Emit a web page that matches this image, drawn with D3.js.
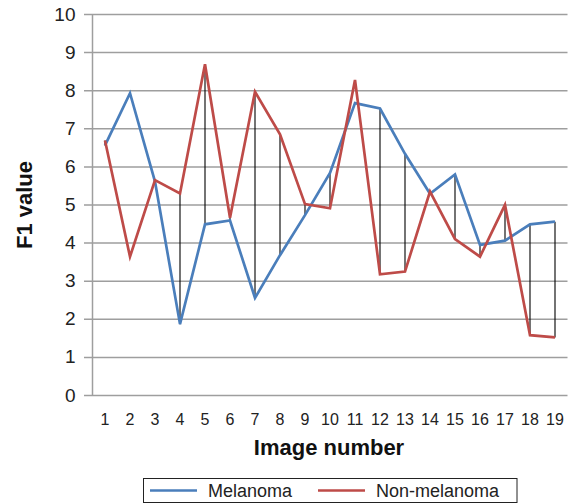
<!DOCTYPE html>
<html><head><meta charset="utf-8">
<script src="https://cdn.jsdelivr.net/npm/d3@7"></script>
<style>body{margin:0;background:#fff}svg{display:block;font-family:"Liberation Sans",Arial,sans-serif}</style>
</head><body>
<svg id="c" width="572" height="504"></svg>
<script>
const images = ["1","2","3","4","5","6","7","8","9","10","11","12","13","14","15","16","17","18","19"];
const melanoma = [6.55,7.92,5.6,1.86,4.48,4.58,2.55,3.67,4.72,5.83,7.66,7.52,6.33,5.28,5.79,3.94,4.05,4.48,4.55];
const nonMelanoma = [6.68,3.63,5.64,5.29,8.68,4.65,7.96,6.84,5.01,4.9,8.27,3.17,3.24,5.34,4.09,3.63,4.99,1.57,1.51];
const connectorImages = ["1","4","5","6","7","8","9","10","12","13","14","15","16","17","18","19"];
const yTicks = [0,1,2,3,4,5,6,7,8,9,10];
const seriesNames = ["Melanoma","Non-melanoma"];
const colors = ["#4a7ebb","#be4b48"];

const svg = d3.select("#c");
const m = {l:92.5, r:567.5, t:14, b:395};
const x = d3.scaleBand().domain(images).range([m.l, m.r]);
const y = d3.scaleLinear().domain([0,10]).range([m.b, m.t]);
const cx = d => x(d) + x.bandwidth()/2;

// gridlines + y axis ticks
const ya = svg.append("g").attr("transform",`translate(${m.l},0)`)
  .call(d3.axisLeft(y).tickValues(yTicks).tickSize(m.l - m.r).tickSizeOuter(0).tickPadding(0));
ya.select(".domain").remove();
ya.selectAll(".tick line").attr("x1", -8.5).attr("stroke","#9e9e9e").attr("stroke-width",1.5);
ya.selectAll(".tick text").attr("x",-17).attr("font-size",19).attr("fill","#222").attr("font-family","Liberation Sans, Arial, sans-serif");
// y axis line
svg.append("line").attr("x1",m.l).attr("x2",m.l).attr("y1",m.t).attr("y2",m.b).attr("stroke","#9e9e9e").attr("stroke-width",1.5);

// x axis labels
const xa = svg.append("g").attr("transform",`translate(0,${m.b})`)
  .call(d3.axisBottom(x).tickSize(0).tickPadding(19));
xa.select(".domain").remove();
xa.selectAll(".tick text").attr("font-size",16).attr("fill","#222").attr("font-family","Liberation Sans, Arial, sans-serif");

// connectors (high-low lines)
svg.append("g").selectAll("line").data(connectorImages).join("line")
  .attr("x1", d=>cx(d)).attr("x2", d=>cx(d))
  .attr("y1", d=>y(melanoma[images.indexOf(d)]))
  .attr("y2", d=>y(nonMelanoma[images.indexOf(d)]))
  .attr("stroke","#000").attr("stroke-width",1.1);

const line = d3.line().x((d,i)=>cx(images[i])).y(d=>y(d));
[melanoma, nonMelanoma].forEach((s,k)=>{
  svg.append("path").datum(s).attr("d",line).attr("fill","none")
    .attr("stroke",colors[k]).attr("stroke-width",2.7).attr("stroke-linejoin","miter");
});

// axis titles
svg.append("text").attr("x",329).attr("y",455).attr("text-anchor","middle")
  .attr("font-size",22).attr("font-weight","bold").attr("fill","#111").text("Image number");
svg.append("text").attr("transform","translate(32,205) rotate(-90)").attr("text-anchor","middle")
  .attr("font-size",22).attr("font-weight","bold").attr("fill","#111").text("F1 value");

// legend
const lg = svg.append("g");
lg.append("rect").attr("x",143.5).attr("y",478.5).attr("width",373.5).attr("height",24)
  .attr("fill","#fff").attr("stroke","#222").attr("stroke-width",1);
const lx = [150, 318];
seriesNames.forEach((n,k)=>{
  lg.append("line").attr("x1",lx[k]).attr("x2",lx[k]+47).attr("y1",490.5).attr("y2",490.5)
    .attr("stroke",colors[k]).attr("stroke-width",2.5);
  lg.append("text").attr("x",lx[k]+58).attr("y",497).attr("font-size",18).attr("fill","#222").text(n);
});
</script>
</body></html>
